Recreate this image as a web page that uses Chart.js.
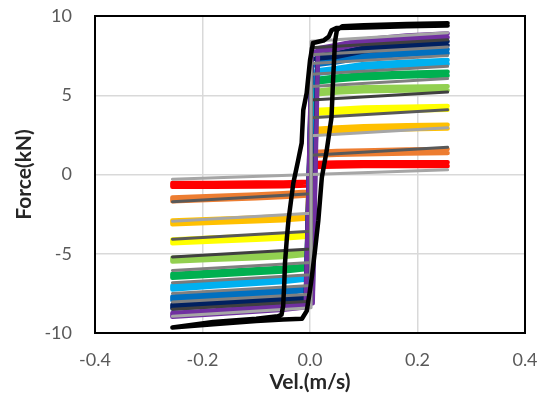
<!DOCTYPE html>
<html>
<head>
<meta charset="utf-8">
<script src="https://cdn.jsdelivr.net/npm/chart.js@4.4.0/dist/chart.umd.min.js"></script>
<style>
  html, body { margin: 0; padding: 0; background: #ffffff; }
  #wrap { width: 540px; height: 396px; position: relative; }
</style>
</head>
<body>
<div id="wrap"><canvas id="chart" width="540" height="396"></canvas></div>
<script>
// Damper force vs. piston velocity: measured loops at increasing coil current,
// with Bingham-type model curves (yield force + viscous slope).

const xTicks = [-0.4, -0.2, 0, 0.2, 0.4];
const yTicks = [-10, -5, 0, 5, 10];

// measured loops, lowest current first (the highest current is drawn separately)
const testNames = ['I1', 'I2', 'I3', 'I4', 'I5', 'I6', 'I7', 'I8', 'I9', 'I10'];
const testColors = ['#FF0000', '#ED7D31', '#FFC000', '#FFFF00', '#92D050',
                    '#00B050', '#00B0F0', '#0070C0', '#002060', '#7030A0'];

// |velocity| (m/s) at which the plateau forces below are read
const plateauVel = [0.05, 0.1, 0.18, 0.256];

// force (kN) on the positive-velocity plateau
const upperForce = [
  [0.63, 0.65, 0.66, 0.66],
  [1.36, 1.40, 1.45, 1.48],
  [2.85, 2.92, 2.98, 3.02],
  [4.02, 4.10, 4.15, 4.20],
  [5.30, 5.38, 5.42, 5.44],
  [6.06, 6.20, 6.30, 6.36],
  [6.60, 6.85, 7.00, 7.10],
  [7.20, 7.50, 7.68, 7.78],
  [7.55, 7.90, 8.15, 8.28],
  [8.05, 8.40, 8.65, 8.78]
];
// force (kN) on the negative-velocity plateau
const lowerForce = [
  [-0.62, -0.63, -0.65, -0.66],
  [-1.30, -1.38, -1.47, -1.57],
  [-2.76, -2.83, -2.92, -3.02],
  [-3.92, -4.00, -4.10, -4.22],
  [-5.08, -5.16, -5.26, -5.37],
  [-6.00, -6.10, -6.25, -6.40],
  [-6.66, -6.78, -6.95, -7.13],
  [-7.39, -7.50, -7.65, -7.81],
  [-7.92, -8.03, -8.18, -8.34],
  [-8.42, -8.53, -8.70, -8.86]
];
// plateau force where the loop turns over near zero velocity
const upperNearZero = [0.60, 1.30, 2.75, 3.95, 5.15, 5.90, 6.45, 7.00, 7.40, 7.85];
const lowerNearZero = [-0.58, -1.20, -2.65, -3.80, -4.95, -5.85, -6.50, -7.20, -7.75, -8.25];
// velocities bounding the force reversal branches
const descTopVel = [0.006, 0.007, 0.008, 0.009, 0.010, 0.011, 0.012, 0.013, 0.014, 0.015];
const descBotVel = [0.001, 0.001, 0.002, 0.002, 0.003, 0.003, 0.004, 0.004, 0.005, 0.005];
const ascBotVel  = [-0.004, -0.004, -0.005, -0.005, -0.006, -0.006, -0.007, -0.007, -0.008, -0.008];
const ascTopVel  = [0.001, 0.001, 0.001, 0.002, 0.002, 0.002, 0.003, 0.003, 0.003, 0.003];
// separation (kN) between the decreasing- and increasing-velocity passes
const passGap = 0.12;

// highest current loop, traced point by point
const maxCurrentVel = [
  0.256, 0.18, 0.10, 0.06,
  0.050, 0.0465, 0.043, 0.040, 0.031, 0.022, 0.0155, 0.0093, 0.004, 0.000, -0.006, -0.015,
  -0.05, -0.10, -0.18, -0.256,
  -0.18, -0.10, -0.06,
  -0.053, -0.050, -0.048, -0.0465, -0.043, -0.040, -0.031, -0.022, -0.0155, -0.0125, -0.0062,
  0.000, 0.0056, 0.025, 0.035, 0.040, 0.050,
  0.10, 0.18, 0.256
];
const maxCurrentForce = [
  9.55, 9.50, 9.42, 9.35,
  9.10, 8.40, 6.00, 3.60, 1.50, -0.20, -2.90, -4.80, -6.30, -7.30, -8.60, -9.10,
  -9.15, -9.25, -9.45, -9.65,
  -9.30, -9.10, -8.95,
  -8.85, -8.30, -7.00, -5.58, -4.00, -2.87, -0.54, 0.90, 1.99, 4.07, 5.14,
  7.20, 8.30, 8.45, 8.70, 9.10, 9.25,
  9.28, 9.35, 9.40
];

// model curves: yield force at zero velocity and force at the end velocity
const modelYield = [0.00, 1.22, 2.45, 3.58, 4.70, 5.55, 6.33, 7.00, 7.55, 8.00, 8.40];
const modelEndForce = [0.30, 1.72, 2.95, 4.08, 5.20, 6.05, 6.83, 7.50, 8.05, 8.50, 8.95];
const modelEndVel = 0.256;
const modelJumpVel = 0.002;
const modelColors = ['#A6A6A6', '#595959', '#A6A6A6', '#595959', '#404040', '#808080',
                     '#7A7A7A', '#808080', '#808080', '#404040', '#A6A6A6'];

function testLoop(i) {
  const pts = [];
  const n = plateauVel.length;
  // velocity decreasing: upper plateau leftwards, reversal, lower plateau leftwards
  for (let k = n - 1; k >= 0; k--) pts.push({ x: plateauVel[k], y: upperForce[i][k] + passGap });
  pts.push({ x: descTopVel[i], y: upperNearZero[i] + passGap });
  pts.push({ x: descBotVel[i], y: lowerNearZero[i] + passGap });
  for (let k = 0; k < n; k++) pts.push({ x: -plateauVel[k], y: lowerForce[i][k] + passGap });
  // velocity increasing: lower plateau rightwards, reversal, upper plateau rightwards
  for (let k = n - 1; k >= 0; k--) pts.push({ x: -plateauVel[k], y: lowerForce[i][k] - passGap });
  pts.push({ x: ascBotVel[i], y: lowerNearZero[i] - passGap });
  pts.push({ x: ascTopVel[i], y: upperNearZero[i] - passGap });
  for (let k = 0; k < n; k++) pts.push({ x: plateauVel[k], y: upperForce[i][k] - passGap });
  return pts;
}

function modelCurve(j) {
  return [
    { x: -modelEndVel, y: -modelEndForce[j] },
    { x: modelJumpVel, y: -modelYield[j] },
    { x: modelJumpVel, y: modelYield[j] },
    { x: modelEndVel, y: modelEndForce[j] }
  ];
}

const datasets = [];
// highest current on top of everything
datasets.push({
  label: 'I11',
  data: maxCurrentVel.map((v, k) => ({ x: v, y: maxCurrentForce[k] })),
  borderColor: '#000000',
  borderWidth: 4.5,
  order: 0
});
// model curves over the measured bands
modelYield.forEach((_, j) => {
  datasets.push({
    label: 'Model ' + (j + 1),
    data: modelCurve(j),
    borderColor: modelColors[j],
    borderWidth: 3,
    order: 20 - j
  });
});
// measured bands, higher currents drawn later
testNames.forEach((name, i) => {
  datasets.push({
    label: name,
    data: testLoop(i),
    borderColor: testColors[i],
    borderWidth: 4.5,
    order: 40 - i
  });
});
datasets.forEach(d => {
  d.showLine = true;
  d.pointRadius = 0;
  d.pointHoverRadius = 0;
  d.fill = false;
  d.tension = 0;
  d.borderCapStyle = 'round';
  d.borderJoinStyle = 'round';
});

const framePlugin = {
  id: 'frame',
  afterDatasetsDraw(chart) {
    const { ctx, chartArea: a } = chart;
    ctx.save();
    ctx.strokeStyle = '#000000';
    ctx.lineWidth = 2;
    ctx.strokeRect(a.left, a.top, a.right - a.left, a.bottom - a.top);
    ctx.restore();
  }
};

const tickFont = { family: 'Lato', size: 18 };
const titleFont = { family: 'Lato', size: 21, weight: 'bold' };

new Chart(document.getElementById('chart'), {
  type: 'scatter',
  data: { datasets },
  plugins: [framePlugin],
  options: {
    responsive: false,
    animation: false,
    events: [],
    layout: { padding: { top: 16, right: 15, bottom: 0, left: 0 } },
    plugins: { legend: { display: false }, tooltip: { enabled: false } },
    scales: {
      x: {
        type: 'linear',
        min: -0.4,
        max: 0.4,
        afterBuildTicks: s => { s.ticks = xTicks.map(v => ({ value: v })); },
        afterFit: s => { s.height = 63; s.paddingLeft = 0; s.paddingRight = 0; },
        ticks: {
          font: tickFont,
          color: '#595959',
          padding: 16,
          callback: v => v.toFixed(1)
        },
        grid: { color: '#D9D9D9', lineWidth: 1.5, drawTicks: false },
        border: { display: false },
        title: {
          display: true,
          text: 'Vel.(m/s)',
          font: titleFont,
          color: '#262626',
          padding: { top: 0, bottom: 1 }
        }
      },
      y: {
        type: 'linear',
        min: -10,
        max: 10,
        afterBuildTicks: s => { s.ticks = yTicks.map(v => ({ value: v })); },
        afterFit: s => { s.width = 95; s.paddingTop = 0; s.paddingBottom = 0; },
        ticks: {
          font: tickFont,
          color: '#595959',
          padding: 23,
          callback: v => String(v)
        },
        grid: { color: '#D9D9D9', lineWidth: 1.5, drawTicks: false },
        border: { display: false },
        title: {
          display: true,
          text: 'Force(kN)',
          font: titleFont,
          color: '#262626',
          padding: { top: 12, bottom: 0 }
        }
      }
    }
  }
});
</script>
</body>
</html>
